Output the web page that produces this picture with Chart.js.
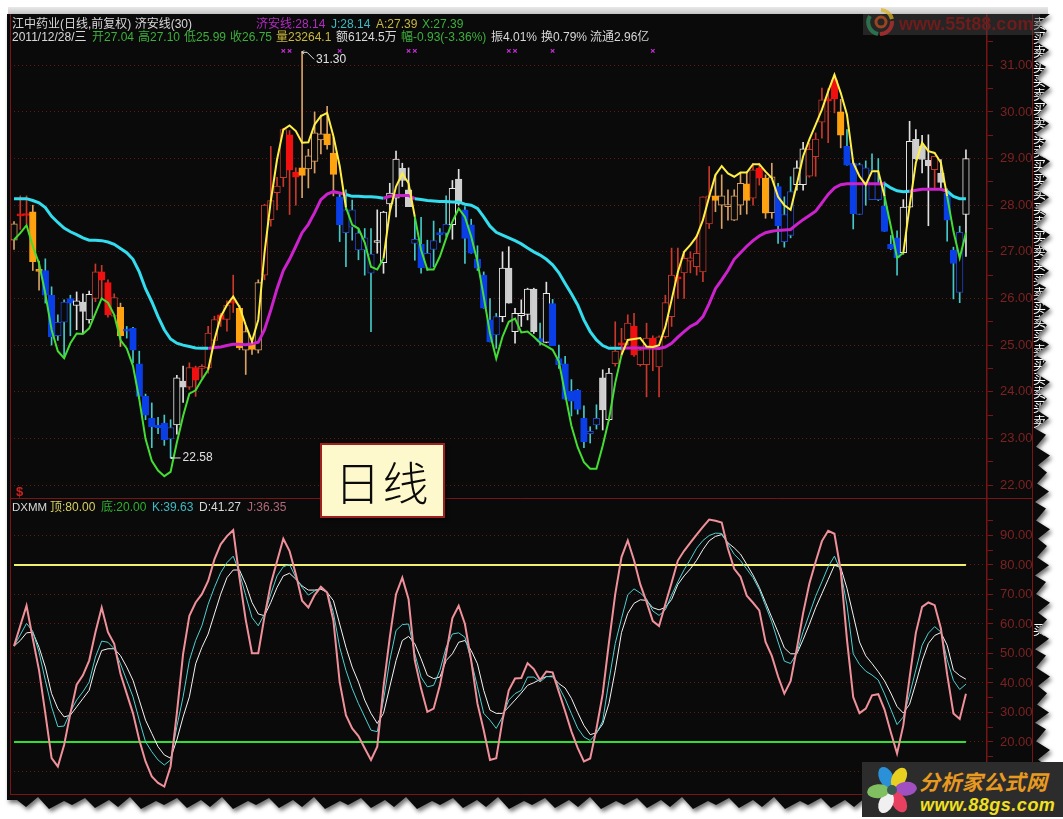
<!DOCTYPE html>
<html lang="zh">
<head>
<meta charset="utf-8">
<title>江中药业 日线 济安线 DXMM</title>
<script src="https://cdn.jsdelivr.net/npm/chart.js@4"></script>
<style>
html,body{margin:0;padding:0;background:#fff;width:1063px;height:819px;overflow:hidden}
body{font-family:"Liberation Sans","Noto Sans CJK SC",sans-serif}
#bar{position:absolute;left:8px;top:7px;width:1040px;height:8px;background:linear-gradient(#e8e8e8,#c4c4c4)}
#shadow{position:absolute;left:0;top:0;width:1063px;height:819px;filter:drop-shadow(2px 3px 2px rgba(0,0,0,.55))}
#frame{position:absolute;left:0;top:0;width:1063px;height:819px;background:#0a0a0a}
canvas{position:absolute}
.t{position:absolute;font-size:12px;line-height:14px;white-space:nowrap;color:#d8d8d8}
.g{color:#3cb03c}.y{color:#c8b840}.m{color:#b02cc0}.c{color:#40b8c0}.p{color:#b06a78}
.side{position:absolute;left:1033px;font-size:13px;line-height:14px;color:#fff;font-family:"Noto Sans CJK SC",sans-serif}
#tag{position:absolute;left:320px;top:443px;width:121px;height:71px;background:#fdf9cc;border:2px solid #a02020;
 box-shadow:2px 2px 3px rgba(0,0,0,.5);color:#0a0a0a;text-align:center;font:300 46px/70px "Noto Sans CJK SC",sans-serif;letter-spacing:2px}
#wm1{position:absolute;left:863px;top:14px;width:177px;height:21px;background:rgba(70,70,70,.45);
 color:#6e1c1c;font:bold 18px/21px "Liberation Sans",sans-serif;white-space:nowrap;padding-left:36px;box-sizing:border-box;overflow:hidden}
#wm2{position:absolute;left:862px;top:762px;width:201px;height:55px;background:#2c2c2c}
#wm2 .a{position:absolute;left:57px;top:6px;font:italic bold 21px/26px "Noto Sans CJK SC",sans-serif;color:#e89a20;white-space:nowrap;letter-spacing:.4px}
#wm2 .b{position:absolute;left:58px;top:33px;font:italic bold 18px/20px "Liberation Sans",sans-serif;color:#f0e020;white-space:nowrap;letter-spacing:.5px}
svg{position:absolute}
</style>
</head>
<body>
<div id="bar"></div>
<div id="shadow"><div id="frame">
<canvas id="priceChart" width="1023" height="485" style="left:10px;top:14px"></canvas>
<canvas id="oscChart" width="1023" height="296" style="left:10px;top:499px"></canvas>

<div class="t" style="left:12px;top:17px">江中药业(日线,前复权) 济安线(30)</div>
<div class="t m" style="left:256px;top:17px">济安线:28.14</div>
<div class="t c" style="left:331px;top:17px">J:28.14</div>
<div class="t y" style="left:376px;top:17px">A:27.39</div>
<div class="t g" style="left:422px;top:17px">X:27.39</div>

<div class="t" style="left:12px;top:30px">2011/12/28/三</div>
<div class="t g" style="left:92px;top:30px">开27.04</div>
<div class="t g" style="left:138px;top:30px">高27.10</div>
<div class="t g" style="left:184px;top:30px">低25.99</div>
<div class="t g" style="left:230px;top:30px">收26.75</div>
<div class="t y" style="left:276px;top:30px">量23264.1</div>
<div class="t" style="left:336px;top:30px">额6124.5万</div>
<div class="t g" style="left:401px;top:30px">幅-0.93(-3.36%)</div>
<div class="t" style="left:491px;top:30px">振4.01%</div>
<div class="t" style="left:541px;top:30px">换0.79%</div>
<div class="t" style="left:590px;top:30px">流通2.96亿</div>

<div class="t" style="left:12px;top:500px;font-size:11.5px">DXMM</div>
<div class="t" style="left:50px;top:500px;color:#d8d060">顶:80.00</div>
<div class="t" style="left:101px;top:500px;color:#30b030">底:20.00</div>
<div class="t c" style="left:152px;top:500px">K:39.63</div>
<div class="t" style="left:199px;top:500px">D:41.27</div>
<div class="t p" style="left:247px;top:500px">J:36.35</div>
<div class="t" style="left:16px;top:485px;color:#d02020;font-weight:bold;font-size:13px">$</div>

<div id="sideCol"></div>
<div class="side" style="top:622px">买</div>
</div></div>

<div id="tag">日线</div>

<div id="wm1">www.55t88.com</div>
<svg style="left:866px;top:7px;opacity:.75" width="30" height="30" viewBox="0 0 30 30">
 <path d="M15 3a12 12 0 0 1 11 9" fill="none" stroke="#d8b020" stroke-width="4"/>
 <path d="M26 14a12 12 0 0 1-12 13" fill="none" stroke="#c03030" stroke-width="4"/>
 <path d="M12 27a12 12 0 0 1-8-18" fill="none" stroke="#2f8a5a" stroke-width="4"/>
 <circle cx="15" cy="15" r="5" fill="none" stroke="#c05020" stroke-width="3"/>
</svg>

<div id="wm2">
 <div class="a">分析家公式网</div>
 <div class="b">www.88gs.com</div>
 <svg style="left:3px;top:2px" width="54" height="52" viewBox="-27 -26 54 52">
  <ellipse cx="0" cy="-14" rx="7" ry="11" fill="#2a90d8" transform="rotate(-25)"/>
  <ellipse cx="0" cy="-14" rx="7" ry="11" fill="#e8d020" transform="rotate(30)"/>
  <ellipse cx="0" cy="-14" rx="7" ry="11" fill="#a050c0" transform="rotate(85)"/>
  <ellipse cx="0" cy="-14" rx="7" ry="11" fill="#e84060" transform="rotate(150)"/>
  <ellipse cx="0" cy="-14" rx="7" ry="11" fill="#f0f0f0" transform="rotate(205)"/>
  <ellipse cx="0" cy="-14" rx="7" ry="11" fill="#80c060" transform="rotate(265)"/>
  <circle r="5" fill="#3a5a50"/>
 </svg>
</div>

<script>
// ---------- candle data ----------
const opens = [
27.25,27.78,27.79,27.86,26.6,26.6,26.07,25.2,25.49,26.0,
25.85,25.92,25.54,26.0,26.57,26.34,25.62,25.81,25.31,25.36,
24.6,23.9,23.43,23.28,23.33,22.99,23.29,24.23,24.1,24.52,
24.5,24.51,25.1,25.65,25.55,25.92,25.79,24.89,25.04,24.89,
26.5,27.69,28.27,28.59,29.51,28.71,28.8,28.78,28.94,29.4,
29.53,29.12,28.18,27.41,27.53,27.04,27.04,26.54,27.2,26.77,
28.03,28.15,28.79,28.33,27.18,27.16,26.65,27.05,27.39,27.4,
27.58,28.56,27.9,27.58,26.84,26.5,25.54,25.22,25.61,26.65,
25.29,25.63,25.66,26.2,25.14,25.06,25.89,24.71,24.6,24.01,
24.03,23.43,23.1,23.29,24.3,23.4,24.6,25.05,25.11,25.4,
24.58,24.58,25.15,24.53,25.18,25.61,26.45,26.55,26.8,26.68,
26.57,27.6,28.2,28.0,27.97,27.68,28.0,28.46,28.15,28.79,
28.58,27.84,28.4,27.22,27.35,28.44,28.44,28.62,29.04,29.78,
30.25,30.69,30.0,29.26,28.9,27.8,28.44,28.12,28.12,27.98,
27.16,27.3,26.98,27.96,29.41,29.26,28.96,28.76,28.69,28.26,
27.04,26.13,27.8];
const highs = [
27.65,28.2,28.2,28.0,26.8,26.85,26.25,25.65,25.97,26.07,
26.14,26.1,26.16,26.74,26.71,26.4,26.1,25.9,25.4,25.38,
24.87,23.95,23.76,23.45,23.5,23.4,24.35,24.55,24.62,24.55,
24.58,25.4,25.62,25.68,25.95,26.5,25.85,25.4,25.1,26.4,
28.02,29.26,28.6,29.65,29.6,28.8,31.3,29.2,30.0,29.93,
30.12,29.45,28.26,28.33,28.11,27.5,27.5,27.5,27.9,27.87,
28.47,29.16,28.9,28.8,27.72,27.74,27.25,27.66,27.5,28.2,
28.53,28.77,27.97,27.7,27.13,26.57,26.0,25.68,27.0,27.11,
25.79,25.97,26.22,26.22,25.47,26.35,25.98,25.0,24.76,24.26,
24.05,23.7,23.25,23.72,24.47,24.5,25.5,25.36,25.65,25.68,
24.95,25.47,25.2,25.2,26.07,27.08,27.08,26.95,27.0,27.36,
28.18,28.83,28.65,28.65,28.33,28.33,28.7,28.72,28.9,28.9,
28.65,28.9,28.47,28.18,28.61,28.95,29.35,29.33,29.55,30.51,
30.5,30.8,30.27,29.62,28.95,28.9,28.95,29.1,29.0,28.5,
27.35,27.45,28.12,29.8,29.62,29.5,29.51,29.05,28.98,28.35,
27.1,27.55,29.19];
const lows = [
27.05,27.48,27.6,26.6,26.18,25.9,25.0,25.1,24.75,25.2,
25.33,25.26,25.47,25.93,26.0,25.6,25.6,24.97,25.15,24.62,
23.85,23.4,22.8,23.1,22.85,22.58,23.09,23.77,24.05,23.9,
24.3,24.4,25.0,25.4,25.3,25.7,24.9,24.37,24.8,24.83,
26.4,27.55,27.9,28.4,27.8,28.0,28.16,28.37,28.69,29.1,
29.2,28.2,27.22,26.68,27.25,26.83,26.5,25.29,26.97,26.54,
27.9,27.75,28.4,27.97,26.82,26.54,26.6,26.68,27.2,27.33,
27.27,28.0,26.75,26.97,26.6,25.79,25.07,24.93,25.5,25.9,
25.04,25.4,25.54,25.25,25.0,25.05,24.99,24.5,23.84,23.48,
23.52,22.8,22.9,23.2,23.18,23.38,24.55,24.76,25.0,24.76,
24.55,23.89,24.45,23.89,25.15,25.4,26.0,26.0,26.55,26.5,
26.36,27.5,27.86,27.5,27.68,27.67,27.8,27.81,28.0,28.43,
27.72,27.72,27.18,27.1,27.3,28.32,28.32,28.6,28.62,29.44,
29.34,29.98,29.23,28.86,27.49,27.8,28.0,28.12,28.1,27.44,
27.05,26.5,26.95,27.95,28.98,28.69,27.56,28.34,28.34,27.23,
25.99,25.91,26.9];
const closes = [
27.6,27.77,27.78,26.79,26.58,26.07,25.18,25.49,25.92,25.9,
25.95,25.72,26.09,26.57,26.39,25.65,26.02,25.2,25.3,24.89,
23.9,23.5,23.25,23.23,22.97,23.23,24.3,24.1,24.52,24.25,
24.53,25.26,25.55,25.55,25.86,25.9,24.94,25.29,24.91,26.34,
28.0,28.1,28.41,29.62,28.75,28.6,28.64,29.06,29.55,29.53,
29.29,28.66,27.58,27.9,27.9,27.4,27.3,26.95,27.21,27.85,
28.26,28.99,28.53,27.97,27.27,26.66,26.97,27.24,27.37,27.59,
28.36,28.03,27.29,26.97,26.65,25.79,25.07,25.61,26.65,25.9,
25.68,25.68,26.2,25.29,25.07,26.11,24.99,24.58,23.84,23.8,
23.62,22.93,23.15,23.43,23.61,24.4,24.87,25.0,25.47,24.79,
24.9,25.15,24.97,25.18,25.91,26.5,26.42,26.86,26.87,26.97,
28.18,28.2,28.1,28.2,28.0,28.2,28.47,28.1,28.76,28.58,
27.83,28.61,27.56,27.8,28.29,28.8,29.21,29.2,29.42,30.26,
30.24,30.28,29.5,28.86,27.82,28.87,28.8,28.76,28.44,27.44,
27.07,26.87,27.96,29.37,28.99,28.98,28.84,29.05,28.49,27.68,
26.75,27.42,29.0];
// colour group of each run of candles: [group, number of candles]
const candleGroups = [
['o',1],['r',2],['o',2],['b',5],['w',3],['r',4],['o',1],['b',8],['w',2],['r',8],['o',4],['r',6],['o',6],
['b',6],['w',6],['b',6],['w',2],['b',6],['w',6],['b',1],['w',1],['b',8],['w',2],['r',16],['o',6],['r',2],
['o',2],['b',3],['w',2],['r',5],['o',1],['b',9],['w',5],['r',1],['w',1],['b',3],['w',1]];

// ---------- 济安线 lines ----------
const fastLine = [
27.26,27.4,27.57,27.12,26.75,26.1,25.33,24.87,24.72,25.04,
25.25,25.24,25.36,25.68,26.0,25.91,25.65,25.11,24.93,24.55,
23.84,22.99,22.52,22.31,22.19,22.28,22.91,23.48,23.96,24.03,
24.26,24.47,25.11,25.61,25.86,26.04,25.82,25.43,25.08,25.54,
26.98,28.09,28.98,29.62,29.71,29.59,29.34,29.35,29.73,29.91,
29.98,29.48,28.84,27.95,27.58,27.5,27.2,26.68,26.62,26.86,
27.86,28.4,28.68,28.47,27.75,27.04,26.62,26.62,26.9,27.29,
27.65,27.93,27.75,27.33,26.79,26.04,25.25,24.71,25.18,25.5,
25.57,25.27,25.29,25.18,25.05,24.98,24.9,24.65,23.95,23.27,
22.81,22.49,22.35,22.35,22.84,23.41,24.19,24.79,25.11,25.13,
25.15,24.97,24.96,25.0,25.39,25.97,26.57,27.0,27.15,27.33,
27.68,28.18,28.65,28.84,28.68,28.61,28.7,28.7,28.88,28.88,
28.72,28.58,28.18,28.0,27.9,28.45,29.05,29.41,29.73,30.05,
30.44,30.8,30.41,29.94,28.91,28.62,28.44,28.73,28.73,28.19,
27.55,26.87,26.98,27.98,28.91,29.34,29.16,29.12,28.91,28.19,
27.44,26.87,27.41];
const slowLine = [
28.14,28.14,28.14,28.1,28.05,27.95,27.76,27.63,27.51,27.43,
27.37,27.3,27.25,27.25,27.24,27.21,27.16,27.07,26.98,26.84,
26.57,26.21,25.93,25.61,25.33,25.13,25.04,25.0,24.97,24.94,
24.93,24.93,24.95,24.96,24.99,25.02,25.02,25.01,25.03,25.06,
25.33,25.75,26.21,26.6,26.84,27.12,27.41,27.59,27.84,28.12,
28.24,28.29,28.26,28.23,28.19,28.19,28.18,28.18,28.17,28.15,
28.19,28.21,28.21,28.21,28.14,28.12,28.1,28.09,28.08,28.08,
28.07,28.07,28.02,28.0,27.93,27.75,27.55,27.42,27.36,27.3,
27.24,27.17,27.08,27.0,26.93,26.84,26.72,26.55,26.32,26.1,
25.86,25.54,25.29,25.11,24.99,24.93,24.93,24.93,24.94,24.94,
24.94,24.94,24.94,24.93,24.96,25.04,25.17,25.29,25.4,25.47,
25.61,25.89,26.21,26.4,26.6,26.84,26.98,27.12,27.24,27.34,
27.41,27.44,27.46,27.47,27.48,27.59,27.69,27.78,27.87,28.05,
28.23,28.37,28.44,28.46,28.46,28.46,28.46,28.46,28.46,28.46,
28.37,28.31,28.29,28.3,28.32,28.34,28.34,28.34,28.34,28.3,
28.19,28.14,28.14];
// bar ranges where the fast line is yellow / the slow line is magenta
const fastYellowRuns = [[31,53],[59,64],[97,139],[142,149]];
const slowMagentaRuns = [[31,53],[59,64],[97,139],[143,149]];
// bars that carry a × signal mark on top of the price panel
const signalBars = [43,44,52,63,64,79,80,86,102];
const signalLevel = 31.31;

// ---------- DXMM oscillator ----------
const kLine = [
52.5,56.3,60.2,57.5,50.4,40.9,31.9,25.2,25.4,30.2,
34.2,37,40.3,48.8,54.2,53.8,51.6,46.5,40.9,35.3,
27.4,20.1,16.7,13.9,12.2,13.9,25.2,35.3,47.6,54.4,
59.4,66.7,72.4,77.4,80.8,83,77.4,69.6,62.2,59.4,
63.4,70.1,76.3,79.4,80.2,75.7,72.4,69.8,71.2,72.1,
70.7,63.9,52.1,44.3,38.1,33,28.5,24,23.5,34.2,
47.6,57.8,59.8,60,49.9,42,38.7,39.2,44.3,52.1,
56.6,57,55.5,47.6,38.7,29.7,27.4,24.6,28.5,34.2,
36.4,37.5,42,42,40.4,42.1,42.4,38.7,34.6,29.6,
24.7,21.7,20.5,22.9,27.1,40.8,53.4,61.9,69.9,71.9,
70.5,68.5,64.4,62.9,64.8,69.8,74.3,78.4,81.9,85.7,
88.3,90,90.8,90.7,87.1,83.6,81.5,78.6,75.7,71.7,
66.2,60.7,53.9,47.4,46.6,50.2,57.4,63.4,69.4,74.3,
79.4,83,77.9,66.4,49.9,46.3,44,42.7,41,36.3,
31.1,25.9,28.5,36,44.4,52.8,56.9,59.1,57.3,47.9,
40.9,37.8,39.63];
const dLine = [
52.5,54.4,57,57.2,52.1,45.4,36.4,31.3,28.5,29.1,
31.9,34.7,37.5,45.4,51,51.6,51.6,49.3,45.4,40.9,
34.2,27.4,22.9,18.4,15.6,14.5,20.7,28.5,35.3,46.5,
52.1,56.6,63.4,70.1,75.7,78.3,78.3,73.5,67.3,63.4,
62.8,67.3,72.4,76.3,77.2,75.2,72.9,71.5,71.5,71.8,
70.7,67.9,60,52.1,45.4,40.3,34.2,29.7,26.3,29.7,
38.7,47.6,54.4,55.8,53.3,48.2,42.6,41.5,42,47.6,
49.9,53.8,54.4,51,46.5,37.5,30.8,29.7,29.7,31.9,
34.2,36.6,39.2,40.1,41.2,42.2,42.1,39.8,38.3,34.8,
30,25.6,22.5,23.1,26.1,33.1,44.3,57.1,63.6,67,
68.2,68,65.5,64.8,65.6,68.3,73.4,76.3,78.7,81.6,
85.2,88.2,89.7,90.3,87.5,85.8,83.7,80.2,76.6,72.4,
67.3,62.2,57.2,51.9,49.9,49.9,54.7,59.9,65.5,70.3,
75.1,79.9,79.2,72.1,63,53.9,49.2,46.6,43.8,40.7,
36.6,32,29.8,32.8,39.9,47.5,53.4,56.1,57.1,52.8,
44.3,42.5,41.27];
const jLine = [
52.5,59.4,66.2,55,44.3,29.7,14.5,11.7,19,29.7,
39.4,42.6,47.6,57.2,65.6,57.2,53.3,43.1,36.4,29.7,
20.7,13.4,8.3,6.1,4.9,11.7,29.7,49.9,62.8,67.3,
70.1,74.6,81.9,87,89.8,91.8,75.7,61.4,50.1,50.1,
62.6,73.6,81.3,88.9,84.7,76.9,67.9,65.6,69.8,72.6,
70.7,61.1,40.3,29.1,24.6,22,17.9,13.9,18.4,38.7,
55.5,70.1,75.7,68.4,47.6,38.1,30.2,31.3,39.2,49.9,
62,66.2,60,47.6,33,24,13.9,14.5,27.4,37.5,
41.5,41.7,46.7,44.7,41,43.9,43.6,37,30.4,23.6,
18,13.4,14.4,24.5,36.3,53.8,70.1,82.7,88.3,81.6,
73.4,67.5,61,59.3,66.7,74,81.5,84.8,87.6,90.3,
92.9,95.4,95,94.4,85.5,78.7,76,69.6,67.2,64.6,
53.9,49.2,42.2,36.4,40.6,51.7,63.7,73.7,81.1,88.1,
91.6,90.6,78.2,54.7,35.2,29.8,31.3,35.8,36.2,31,
23.3,16.1,25.7,41.8,57,65.8,67.3,66.4,58.5,42.9,
29.7,27.8,36.35];
const upperLevel = 80, lowerLevel = 20;

// ---------- axis ticks ----------
const priceTicks = [22,23,24,25,26,27,28,29,30,31];
const oscTicks = [10,20,30,40,50,60,70,80,90];
const sideMarks = '卖买卖买买卖买卖买卖买买卖买卖买卖买买卖买卖买卖买买卖买卖';

const barIndex = opens.map((_, i) => i);
const lastBar = barIndex[barIndex.length - 1];

const PLOT_BG = '#0a0a0a', AXIS_RED = '#7a1515', LABEL_RED = '#7d2222';
const FILL = {r:'#f01010', o:'#ffa210', w:'#cfcfcf', b:'#0a3fe8'};
const EDGE = {r:'#c0392b', o:'#d9a066', w:'#e8e8e8', b:'#2444c0'};
const WICK = {r:'#c8392b', o:'#d9a066', w:'#e0e0e0', b:'#46c8c8'};

const tones = candleGroups.flatMap(([t, n]) => Array(n).fill(t));
const isUp = i => closes[i] > opens[i];
const inRuns = (runs, i) => runs.some(([a, b]) => i >= a && i < b);

// build the torn-paper outline of the frame
(function () {
  const widths = [12,9,14,10,13,8,15,11];
  const depths = [0,10,3,11,1,8,4,12];
  const pts = ['7px 14px', '1047px 14px'];
  let y = 14, k = 0;
  while (y < 800) {
    const x = (k % 2 ? 1038 : 1050) - (depths[k % 8] % 5);
    pts.push(x + 'px ' + y + 'px');
    y += widths[k % 8] * 0.8; k++;
  }
  let x = 1050; k = 0;
  while (x > 7) {
    const yy = 797 + depths[k % 8];
    pts.push(x + 'px ' + yy + 'px');
    x -= widths[k % 8]; k++;
  }
  pts.push('7px 800px');
  document.getElementById('frame').style.clipPath = 'polygon(' + pts.join(',') + ')';
  const col = document.getElementById('sideCol');
  [...sideMarks].forEach((ch, i) => {
    const d = document.createElement('div');
    d.className = 'side';
    d.style.top = (16 + i * 14.2) + 'px';
    d.textContent = ch;
    col.appendChild(d);
  });
})();

Chart.defaults.animation = false;
Chart.defaults.font.family = '"Liberation Sans", sans-serif';

// x scale: bars are evenly spaced, first bar 4 px inside the plot, 21 px free on the right
const xScale = {type: 'linear', display: false, offset: false, min: -0.64, max: 155.36};

function yAxis(min, max, majors, halfStep) {
  const minors = majors.map(v => v + halfStep);
  return {
    position: 'right', min, max,
    afterBuildTicks: s => { s.ticks = majors.concat(minors).filter(v => v > min && v < max)
      .sort((a, b) => a - b).map(value => ({value})); },
    afterFit: s => { s.width = 46; s.paddingTop = 0; s.paddingBottom = 0; },
    border: {display: true, color: AXIS_RED, width: 1.5, dash: [1, 3]},
    grid: {
      drawTicks: true, tickLength: 6,
      color: c => majors.includes(c.tick.value) ? '#5e1c12' : 'rgba(0,0,0,0)',
      tickColor: AXIS_RED, lineWidth: 1
    },
    ticks: {
      autoSkip: false, maxRotation: 0, color: LABEL_RED, padding: 7, align: 'center',
      font: {size: 13},
      callback: v => majors.includes(v) ? Number(v).toFixed(2) : ''
    }
  };
}

const framePlugin = {
  id: 'panelFrame',
  afterDraw(chart) {
    const {ctx, chartArea: a, width, height} = chart;
    ctx.save();
    ctx.strokeStyle = AXIS_RED; ctx.lineWidth = 1;
    ctx.beginPath();
    ctx.moveTo(a.left + .5, 0); ctx.lineTo(a.left + .5, height);
    ctx.moveTo(width - .5, 0); ctx.lineTo(width - .5, height);
    ctx.moveTo(0, height - .5); ctx.lineTo(width, height - .5);
    ctx.stroke();
    ctx.restore();
  }
};

const extremesPlugin = {
  id: 'extremes',
  afterDatasetsDraw(chart) {
    const {ctx, scales: {x, y}} = chart;
    const hi = Math.max(...highs), lo = Math.min(...lows);
    const hx = x.getPixelForValue(highs.indexOf(hi)), hy = y.getPixelForValue(hi);
    const lx = x.getPixelForValue(lows.indexOf(lo)), ly = y.getPixelForValue(lo);
    ctx.save();
    ctx.strokeStyle = ctx.fillStyle = '#e0e0e0'; ctx.lineWidth = 1;
    ctx.font = '12px "Liberation Sans", sans-serif';
    ctx.textBaseline = 'middle';
    ctx.beginPath();
    ctx.moveTo(hx, hy + 1); ctx.lineTo(hx + 5, hy + 1); ctx.lineTo(hx + 12, hy + 8);
    ctx.moveTo(hx, hy + 1); ctx.lineTo(hx + 2, hy - 1); ctx.moveTo(hx, hy + 1); ctx.lineTo(hx + 2, hy + 3);
    ctx.moveTo(lx + 1, ly); ctx.lineTo(lx + 10, ly);
    ctx.stroke();
    ctx.fillRect(lx, ly - 1, 2, 2);
    ctx.fillText(hi.toFixed(2), hx + 14, hy + 8);
    ctx.fillText(lo.toFixed(2), lx + 12, ly);
    ctx.restore();
  }
};

new Chart(document.getElementById('priceChart'), {
  data: {
    labels: barIndex,
    datasets: [
      {type: 'line', label: '济安线快线', data: fastLine, order: 1, borderWidth: 2, pointRadius: 0, tension: 0,
       borderColor: '#ffee44',
       segment: {borderColor: c => inRuns(fastYellowRuns, c.p0DataIndex) ? '#ffee44' : '#44dd33'}},
      {type: 'line', label: '济安线', data: slowLine, order: 2, borderWidth: 3, pointRadius: 0, tension: 0,
       borderColor: '#33ddee',
       segment: {borderColor: c => inRuns(slowMagentaRuns, c.p0DataIndex) ? '#cc22cc' : '#33ddee'}},
      {type: 'bar', label: '实体', data: opens.map((o, i) => [o, closes[i]]), order: 3, grouped: false,
       barThickness: 6.6, minBarLength: 2, borderSkipped: false, borderWidth: 1,
       backgroundColor: opens.map((_, i) => isUp(i) ? PLOT_BG : FILL[tones[i]]),
       borderColor: opens.map((_, i) => isUp(i) ? EDGE[tones[i]] : FILL[tones[i]])},
      {type: 'bar', label: '影线', data: lows.map((l, i) => [l, highs[i]]), order: 4, grouped: false,
       barThickness: 1, borderSkipped: false, borderWidth: 0,
       backgroundColor: tones.map(t => WICK[t])},
      {type: 'scatter', label: '信号', order: 0, data: signalBars.map(b => ({x: b, y: signalLevel})),
       pointStyle: 'crossRot', pointRadius: 2.5, borderWidth: 1.2, borderColor: '#c030d0', showLine: false}
    ]
  },
  options: {
    responsive: false, maintainAspectRatio: false,
    layout: {padding: 0, autoPadding: false},
    plugins: {legend: {display: false}, tooltip: {enabled: false}},
    scales: {x: xScale, y: yAxis(21.70, 32.10, priceTicks, 0.5)}
  },
  plugins: [framePlugin, extremesPlugin]
});

new Chart(document.getElementById('oscChart'), {
  data: {
    labels: barIndex,
    datasets: [
      {type: 'line', label: '顶', data: [{x: 0, y: upperLevel}, {x: lastBar, y: upperLevel}], order: 4,
       borderColor: '#f2ee70', borderWidth: 2, pointRadius: 0},
      {type: 'line', label: '底', data: [{x: 0, y: lowerLevel}, {x: lastBar, y: lowerLevel}], order: 5,
       borderColor: '#30e030', borderWidth: 2, pointRadius: 0},
      {type: 'line', label: 'D', data: dLine, order: 3, borderColor: '#f4f4f4', borderWidth: 1, pointRadius: 0, tension: 0},
      {type: 'line', label: 'K', data: kLine, order: 2, borderColor: '#4fd0d0', borderWidth: 1, pointRadius: 0, tension: 0},
      {type: 'line', label: 'J', data: jLine, order: 1, borderColor: '#f0909a', borderWidth: 2, pointRadius: 0, tension: 0}
    ]
  },
  options: {
    responsive: false, maintainAspectRatio: false,
    layout: {padding: 0, autoPadding: false},
    plugins: {legend: {display: false}, tooltip: {enabled: false}},
    scales: {x: xScale, y: yAxis(2.03, 102.37, oscTicks, 5)}
  },
  plugins: [framePlugin]
});
</script>
</body>
</html>
